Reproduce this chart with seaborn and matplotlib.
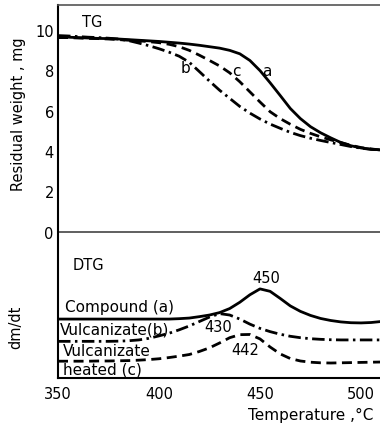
import numpy as np
import matplotlib
matplotlib.use("Agg")
import matplotlib.pyplot as plt
import seaborn as sns

# temperature grid, deg C
temp = list(range(350, 515, 5))

# TG curves, residual weight (mg)
tg_a = [9.65, 9.62, 9.60, 9.58, 9.56, 9.55, 9.53, 9.50, 9.47, 9.44, 9.41, 9.37, 9.33,
        9.28, 9.22, 9.15, 9.08, 8.97, 8.80, 8.47, 7.97, 7.37, 6.74, 6.10, 5.60, 5.20,
        4.90, 4.65, 4.42, 4.26, 4.15, 4.09, 4.05]
tg_b = [9.70, 9.68, 9.65, 9.62, 9.60, 9.57, 9.53, 9.45, 9.33, 9.20, 9.05, 8.88, 8.68,
        8.38, 7.92, 7.45, 7.00, 6.60, 6.20, 5.87, 5.58, 5.33, 5.12, 4.92, 4.76, 4.63,
        4.52, 4.42, 4.32, 4.22, 4.14, 4.08, 4.05]
tg_c = [9.60, 9.60, 9.58, 9.56, 9.55, 9.53, 9.50, 9.47, 9.44, 9.40, 9.35, 9.27, 9.15,
        8.97, 8.73, 8.47, 8.20, 7.86, 7.42, 6.92, 6.42, 5.94, 5.60, 5.32, 5.07, 4.87,
        4.70, 4.55, 4.42, 4.28, 4.17, 4.10, 4.05]

# DTG curves (arbitrary units, drawn below the TG zero line)
dtg_a = [-4.30, -4.30, -4.30, -4.30, -4.30, -4.30, -4.30, -4.30, -4.30, -4.30, -4.30,
         -4.30, -4.28, -4.25, -4.18, -4.10, -3.98, -3.78, -3.47, -3.10, -2.81, -2.93,
         -3.28, -3.65, -3.92, -4.12, -4.27, -4.37, -4.44, -4.48, -4.49, -4.47, -4.42]
dtg_b = [-5.40, -5.40, -5.40, -5.40, -5.40, -5.40, -5.39, -5.37, -5.33, -5.25, -5.13,
         -5.00, -4.83, -4.64, -4.42, -4.20, -4.03, -4.10, -4.30, -4.55, -4.76, -4.92,
         -5.05, -5.15, -5.22, -5.27, -5.30, -5.32, -5.33, -5.33, -5.33, -5.33, -5.33]
dtg_c = [-6.38, -6.38, -6.38, -6.38, -6.37, -6.37, -6.36, -6.35, -6.33, -6.30, -6.26,
         -6.20, -6.13, -6.05, -5.90, -5.72, -5.48, -5.22, -5.07, -5.06, -5.28, -5.68,
         -6.02, -6.25, -6.37, -6.43, -6.46, -6.47, -6.46, -6.45, -6.44, -6.43, -6.42]

x_ticks = [350, 400, 450, 500]
y_ticks = [0, 2, 4, 6, 8, 10]

sns.set_style("white")
plt.rcParams["font.family"] = ["DejaVu Sans"]
plt.rcParams["text.color"] = "black"
plt.rcParams["axes.labelcolor"] = "black"

fig = plt.figure(figsize=(3.8, 4.27), dpi=100)
ax = fig.add_axes([58 / 380, 1 - 379 / 427, 1 - 58 / 380, 373 / 427])

solid = "-"
dashed = (0, (3.6, 2.0))
dashdot = (0, (4.5, 1.6, 0.9, 1.6))

sns.lineplot(x=temp, y=tg_a, ax=ax, color="black", linewidth=2.0, linestyle=solid)
sns.lineplot(x=temp, y=tg_c, ax=ax, color="black", linewidth=2.0, linestyle=dashed)
sns.lineplot(x=temp, y=tg_b, ax=ax, color="black", linewidth=2.0, linestyle=dashdot)
sns.lineplot(x=temp, y=dtg_a, ax=ax, color="black", linewidth=2.0, linestyle=solid)
sns.lineplot(x=temp, y=dtg_b, ax=ax, color="black", linewidth=2.0, linestyle=dashdot)
sns.lineplot(x=temp, y=dtg_c, ax=ax, color="black", linewidth=2.0, linestyle=dashed)

ax.axhline(0, color="#444444", linewidth=1.2)

ax.set_xlim(350, 509.4)
ax.set_ylim(-7.21, 11.21)
ax.set_xticks(x_ticks)
ax.set_yticks(y_ticks)
ax.tick_params(axis="x", direction="in", length=11, width=1.2, pad=6,
               labelsize=10.5, colors="black")
ax.tick_params(axis="y", direction="in", length=8, width=1.2, pad=3,
               labelsize=10.5, colors="black")

for side in ["left", "bottom"]:
    ax.spines[side].set_color("black")
    ax.spines[side].set_linewidth(1.5)
ax.spines["top"].set_color("#555555")
ax.spines["top"].set_linewidth(1.2)
ax.spines["right"].set_visible(False)

# annotations
ax.text(362, 10.4, "TG", fontsize=10.5, va="center", ha="left")
ax.text(453.5, 8.0, "a", fontsize=11, va="center", ha="center")
ax.text(438.1, 8.0, "c", fontsize=11, va="center", ha="center")
ax.text(412.9, 8.1, "b", fontsize=11, va="center", ha="center")

ax.text(357.3, -1.62, "DTG", fontsize=10.5, va="center", ha="left")
ax.text(353.5, -3.7, "Compound (a)", fontsize=11, va="center", ha="left")
ax.text(351, -4.79, "Vulcanizate(b)", fontsize=11, va="center", ha="left")
ax.text(352.6, -5.85, "Vulcanizate", fontsize=11, va="center", ha="left")
ax.text(352.6, -6.79, "heated (c)", fontsize=11, va="center", ha="left")

ax.text(453.3, -2.27, "450", fontsize=10.5, va="center", ha="center")
ax.text(429.4, -4.67, "430", fontsize=10.5, va="center", ha="center")
ax.text(442.6, -5.82, "442", fontsize=10.5, va="center", ha="center")

fig.text(18.5 / 380, 1 - 114.5 / 427, "Residual weight , mg", rotation=90,
         fontsize=10.5, ha="center", va="center")
fig.text(16 / 380, 1 - 327.5 / 427, "dm/dt", rotation=90,
         fontsize=10.5, ha="center", va="center")
fig.text(311 / 380, 1 - 415 / 427, "Temperature ,°C",
         fontsize=11, ha="center", va="center")

fig.savefig("out.png", dpi=100)
